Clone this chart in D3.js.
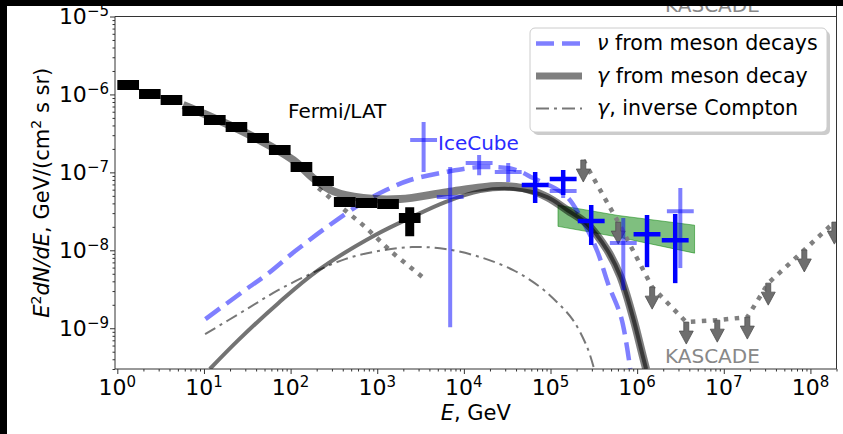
<!DOCTYPE html>
<html>
<head>
<meta charset="utf-8">
<script src="https://cdn.jsdelivr.net/npm/d3@7"></script>
<style>
  body { margin: 0; background: #000; }
  svg { display: block; font-family: "DejaVu Sans", sans-serif; }
</style>
</head>
<body>
<svg width="843" height="434"></svg>
<script>
// ---- data ----
// Fermi/LAT diffuse spectrum, quarter-decade bins (GeV)
var fermiEdges = [1, 1.78, 3.16, 5.62, 10, 17.8, 31.6, 56.2, 100, 178, 316, 562, 1000, 1778, 3162];
var fermiFlux  = [1.32e-6, 1.01e-6, 8.47e-7, 6.12e-7, 4.69e-7, 3.82e-7, 2.76e-7, 1.93e-7, 1.17e-7, 7.73e-8, 4.16e-8, 4.04e-8, 3.92e-8, 2.59e-8];
var fermiLo    = [null, null, null, null, null, null, null, null, null, null, null, null, null, 1.52e-8];
var fermiHi    = [null, null, null, null, null, null, null, null, null, null, null, null, null, 3.58e-8];

// IceCube points, faint and bold sets
var icLightE  = [3.43e3, 6.95e3, 1.50e4, 3.25e4, 1.40e5, 6.92e5, 3.15e6];
var icLightF  = [2.60e-7, 4.82e-8, 1.32e-7, 1.01e-7, 5.75e-8, 1.24e-8, 3.18e-8];
var icLightLo = [1.01e-7, 1.03e-9, 9.2e-8, 7.5e-8, 4.68e-8, 3.08e-9, 5.92e-9];
var icLightHi = [4.43e-7, 1.17e-7, 1.67e-7, 1.32e-7, 9.2e-8, 2.59e-8, 6.28e-8];
var icDarkE   = [6.65e4, 1.40e5, 2.95e5, 1.30e6, 2.75e6];
var icDarkF   = [6.87e-8, 8.2e-8, 2.37e-8, 1.61e-8, 1.35e-8];
var icDarkLo  = [4.04e-8, 5.12e-8, 1.17e-8, 6.08e-9, 3.79e-9];
var icDarkHi  = [1.01e-7, 1.07e-7, 3.8e-8, 2.83e-8, 2.92e-8];
var icBinHalfDex = 0.155;

// IceCube power-law band
var bandE  = [1.22e5, 6.0e5, 4.6e6];
var bandHi = [3.8e-8, 2.8e-8, 2.1e-8];
var bandLo = [2.03e-8, 1.48e-8, 9.2e-9];

// KASCADE upper limits
var kascE  = [2.39e5, 6.05e5, 1.49e6, 3.69e6, 8.41e6, 1.87e7, 3.26e7, 8.5e7, 1.89e8];
var kascUL = [1.44e-7, 2.30e-8, 3.37e-9, 1.20e-9, 1.27e-9, 1.39e-9, 3.79e-9, 1.01e-8, 2.30e-8];

// model curves
var nuE = [10.4, 27.5, 53.6, 113, 271, 668, 1265, 2399, 6412, 1.54e4, 3.71e4, 6.31e4, 1.48e5, 2.26e5, 3.46e5, 4.63e5, 6.56e5, 8.32e5];
var nuF = [1.31e-9, 2.90e-9, 4.94e-9, 9.77e-9, 2.04e-8, 4.04e-8, 5.93e-8, 7.98e-8, 1.02e-7, 1.17e-7, 1.10e-7, 8.45e-8, 5.1e-8, 2.59e-8, 9.8e-9, 3.7e-9, 1.36e-9, 3.0e-10];

var gamTotE = [5.75, 9.0, 34, 107, 182, 309, 687, 1841, 6412, 2.42e4, 4.83e4, 9.14e4, 1.56e5, 2.65e5, 4.51e5, 6.37e5, 9.0e5, 1.14e6, 1.27e6];
var gamTotF = [7.31e-7, 5.94e-7, 3.01e-7, 1.44e-7, 8.45e-8, 5.75e-8, 4.68e-8, 4.54e-8, 5.58e-8, 6.67e-8, 6.28e-8, 4.82e-8, 3.28e-8, 2.17e-8, 1.01e-8, 4.67e-9, 1.35e-9, 4.79e-10, 2.99e-10];

var gamE = [11.7, 24.9, 72.1, 209, 951, 2512, 6095, 1.54e4, 3.71e4, 9.14e4, 1.56e5, 2.65e5, 4.51e5, 6.37e5, 9.0e5, 1.14e6, 1.27e6];
var gamF = [3.0e-10, 7.03e-10, 2.10e-9, 5.57e-9, 1.57e-8, 2.67e-8, 4.16e-8, 5.75e-8, 6.1e-8, 4.82e-8, 3.28e-8, 2.17e-8, 1.01e-8, 4.67e-9, 1.35e-9, 4.79e-10, 2.99e-10];

var icE = [10.3, 29.9, 71.8, 177, 426, 1023, 2512, 6095, 1.54e4, 3.71e4, 7.59e4, 1.19e5, 1.82e5, 2.65e5, 3.19e5];
var icF = [8.39e-10, 1.71e-9, 3.08e-9, 5.09e-9, 7.71e-9, 9.77e-9, 1.10e-8, 1.04e-8, 8.18e-9, 5.57e-9, 3.37e-9, 2.16e-9, 1.27e-9, 5.71e-10, 2.99e-10];

// dotted extrapolation of the Fermi spectrum
var fxE = [209, 394, 711, 1500, 3680];
var fxF = [6.3e-8, 3.5e-8, 2.04e-8, 9.3e-9, 4.14e-9];

var xTicks = [1, 10, 100, 1e3, 1e4, 1e5, 1e6, 1e7, 1e8];
var xTickExp = ['0', '1', '2', '3', '4', '5', '6', '7', '8'];
var yTicks = [1e-9, 1e-8, 1e-7, 1e-6, 1e-5];
var yTickExp = ['\u22129', '\u22128', '\u22127', '\u22126', '\u22125'];

var legendSym  = ['\u03bd', '\u03b3', '\u03b3'];
var legendText = [' from meson decays', ' from meson decay', ', inverse Compton'];

// ---- drawing ----
var svg = d3.select('svg');
var pL = 115, pR = 836.5, pT = 16.5, pB = 369;

var x = d3.scaleLog().domain([0.94, 2e8]).range([pL, pR]);
var y = d3.scaleLog().domain([3e-10, 1e-5]).range([pB, pT]);

svg.append('rect').attr('x', 7).attr('y', 6).attr('width', 836).attr('height', 428).attr('fill', '#fff');

svg.append('clipPath').attr('id', 'plot')
  .append('rect').attr('x', pL).attr('y', pT).attr('width', pR - pL).attr('height', pB - pT);

var plot = svg.append('g').attr('clip-path', 'url(#plot)');

function zipped(a, b) { return a.map(function (d, i) { return [d, b[i]]; }); }

var line = d3.line()
  .x(function (d) { return x(d[0]); })
  .y(function (d) { return y(d[1]); })
  .curve(d3.curveCatmullRom.alpha(0.5));
var straight = d3.line()
  .x(function (d) { return x(d[0]); })
  .y(function (d) { return y(d[1]); });

// green band
var area = d3.area()
  .x(function (d) { return x(d[0]); })
  .y0(function (d) { return y(d[1]); })
  .y1(function (d) { return y(d[2]); });
plot.append('path')
  .attr('d', area(bandE.map(function (d, i) { return [d, bandLo[i], bandHi[i]]; })))
  .attr('fill', '#008000').attr('fill-opacity', 0.5)
  .attr('stroke', '#008000').attr('stroke-opacity', 0.5).attr('stroke-width', 1);

// Fermi extrapolation (dotted)
plot.append('path').attr('d', straight(zipped(fxE, fxF)))
  .attr('fill', 'none').attr('stroke', '#808080').attr('stroke-width', 4.5)
  .attr('stroke-dasharray', '4.5 6.5');

// inverse Compton
plot.append('path').attr('d', line(zipped(icE, icF)))
  .attr('fill', 'none').attr('stroke', '#555').attr('stroke-opacity', 0.8)
  .attr('stroke-width', 2).attr('stroke-dasharray', '12 5 3 5');

// neutrinos
plot.append('path').attr('d', line(zipped(nuE, nuF)))
  .attr('fill', 'none').attr('stroke', '#0000ff').attr('stroke-opacity', 0.5)
  .attr('stroke-width', 4.5).attr('stroke-dasharray', '18 8');

// gamma from meson decay (total and component)
plot.append('path').attr('d', line(zipped(gamTotE, gamTotF)))
  .attr('fill', 'none').attr('stroke', '#000').attr('stroke-opacity', 0.5).attr('stroke-width', 8);
plot.append('path').attr('d', line(zipped(gamE, gamF)))
  .attr('fill', 'none').attr('stroke', '#000').attr('stroke-opacity', 0.55).attr('stroke-width', 4);

// KASCADE limits
var kasc = zipped(kascE, kascUL);
plot.append('path').attr('d', straight(kasc))
  .attr('fill', 'none').attr('stroke', '#808080').attr('stroke-width', 4.5)
  .attr('stroke-dasharray', '4.5 6.5');
plot.selectAll('.arrow')
  .data(kasc)
  .enter()
  .append('path')
  .attr('class', 'arrow')
  .attr('transform', function (d) { return 'translate(' + x(d[0]) + ',' + y(d[1]) + ')'; })
  .attr('d', 'M-2.5,0L2.5,0L2.5,9L7,9L0,22L-7,9L-2.5,9Z')
  .attr('fill', '#6e6e6e').attr('stroke', '#505050').attr('stroke-width', 0.8);

// Fermi/LAT points
var fermi = fermiFlux.map(function (f, i) {
  return { e0: fermiEdges[i], e1: fermiEdges[i + 1], e: Math.sqrt(fermiEdges[i] * fermiEdges[i + 1]), f: f, lo: fermiLo[i], hi: fermiHi[i] };
});
plot.selectAll('.fx')
  .data(fermi)
  .enter()
  .append('line')
  .attr('x1', function (d) { return x(d.e0); })
  .attr('x2', function (d) { return x(d.e1); })
  .attr('y1', function (d) { return y(d.f); })
  .attr('y2', function (d) { return y(d.f); })
  .attr('stroke', '#000').attr('stroke-width', 10);
plot.selectAll('.fy')
  .data(fermi.filter(function (d) { return d.lo !== null; }))
  .enter()
  .append('line')
  .attr('x1', function (d) { return x(d.e); })
  .attr('x2', function (d) { return x(d.e); })
  .attr('y1', function (d) { return y(d.lo); })
  .attr('y2', function (d) { return y(d.hi); })
  .attr('stroke', '#000').attr('stroke-width', 9);

// IceCube crosses
function crosses(E, F, lo, hi, color, opacity, width) {
  var pts = E.map(function (e, i) { return { e: e, f: F[i], lo: lo[i], hi: hi[i] }; });
  var g = plot.append('g').attr('stroke', color).attr('stroke-opacity', opacity).attr('stroke-width', width);
  g.selectAll('.h').data(pts).enter().append('line').attr('class', 'h')
    .attr('x1', function (d) { return x(d.e / Math.pow(10, icBinHalfDex)); })
    .attr('x2', function (d) { return x(d.e * Math.pow(10, icBinHalfDex)); })
    .attr('y1', function (d) { return y(d.f); })
    .attr('y2', function (d) { return y(d.f); });
  g.selectAll('.v').data(pts).enter().append('line').attr('class', 'v')
    .attr('x1', function (d) { return x(d.e); })
    .attr('x2', function (d) { return x(d.e); })
    .attr('y1', function (d) { return y(d.lo); })
    .attr('y2', function (d) { return y(d.hi); });
}
crosses(icLightE, icLightF, icLightLo, icLightHi, '#0000ff', 0.5, 4);
crosses(icDarkE, icDarkF, icDarkLo, icDarkHi, '#0000ff', 1, 4.5);

// annotations
svg.append('text').attr('x', 288).attr('y', 118).attr('font-size', 20).attr('fill', '#000').text('Fermi/LAT');
svg.append('text').attr('x', 438).attr('y', 149.5).attr('font-size', 20).attr('fill', '#2b2bff').text('IceCube');
svg.append('text').attr('x', 665).attr('y', 363).attr('font-size', 20).attr('fill', '#888').text('KASCADE');
svg.append('text').attr('x', 665).attr('y', 12).attr('font-size', 20).attr('fill', '#888').text('KASCADE');

// legend
var lg = svg.append('g');
lg.append('rect').attr('x', 533).attr('y', 31).attr('width', 297).attr('height', 104).attr('rx', 5)
  .attr('fill', '#999').attr('fill-opacity', 0.5);
lg.append('rect').attr('x', 530).attr('y', 28).attr('width', 297).attr('height', 104).attr('rx', 5)
  .attr('fill', '#fff').attr('stroke', '#ccc').attr('stroke-width', 1);
var handles = [
  { color: '#0000ff', op: 0.5, w: 4.5, dash: '18 8' },
  { color: '#000', op: 0.5, w: 7, dash: null },
  { color: '#555', op: 0.8, w: 2, dash: '13 5 3 5' }
];
legendSym.forEach(function (s, i) {
  var cy = 43.5 + i * 32.5;
  lg.append('line').attr('x1', 536).attr('x2', 582).attr('y1', cy).attr('y2', cy)
    .attr('stroke', handles[i].color).attr('stroke-opacity', handles[i].op)
    .attr('stroke-width', handles[i].w).attr('stroke-dasharray', handles[i].dash);
  var t = lg.append('text').attr('x', 597).attr('y', cy + 6.5).attr('font-size', 20.6).attr('fill', '#000');
  t.append('tspan').attr('font-style', 'italic').text(s);
  t.append('tspan').text(legendText[i]);
});

// axes
var ax = svg.append('g').attr('transform', 'translate(0,' + pB + ')');
ax.call(d3.axisBottom(x).tickValues(x.ticks().filter(function (d) { return xTicks.indexOf(d) < 0; }))
  .tickSize(2.5).tickSizeOuter(0).tickFormat(''));
ax.select('.domain').remove();
var axM = svg.append('g').attr('transform', 'translate(0,' + pB + ')');
axM.call(d3.axisBottom(x).tickValues(xTicks).tickSize(5).tickSizeOuter(0).tickFormat(''));
axM.select('.domain').remove();

var ay = svg.append('g').attr('transform', 'translate(' + pL + ',0)');
ay.call(d3.axisLeft(y).tickValues(y.ticks().filter(function (d) {
  return Math.abs(Math.log10(d) - Math.round(Math.log10(d))) > 1e-6;
})).tickSize(2.5).tickSizeOuter(0).tickFormat(''));
ay.select('.domain').remove();
var ayM = svg.append('g').attr('transform', 'translate(' + pL + ',0)');
ayM.call(d3.axisLeft(y).tickValues(yTicks).tickSize(5).tickSizeOuter(0).tickFormat(''));
ayM.select('.domain').remove();
svg.selectAll('.tick line').attr('stroke', '#333');

xTicks.forEach(function (d, i) {
  var t = svg.append('text').attr('x', x(d)).attr('y', 395).attr('text-anchor', 'middle')
    .attr('font-size', 22).attr('fill', '#000');
  t.append('tspan').text('10');
  t.append('tspan').attr('font-size', 15).attr('dy', -8).text(xTickExp[i]);
});
yTicks.forEach(function (d, i) {
  var t = svg.append('text').attr('x', 109).attr('y', y(d) + 7.5).attr('text-anchor', 'end')
    .attr('font-size', 22).attr('fill', '#000');
  t.append('tspan').text('10');
  t.append('tspan').attr('font-size', 15).attr('dy', -8).text(yTickExp[i]);
});

// spines
var sp = svg.append('g').attr('stroke', '#333').attr('stroke-width', 1).attr('fill', 'none');
sp.append('path').attr('d', 'M' + pL + ',' + pT + 'V' + pB + 'H' + pR);
sp.append('path').attr('d', 'M' + pL + ',' + pT + 'H' + pR);
sp.append('path').attr('d', 'M' + pR + ',6V' + pB);

// axis labels
var xl = svg.append('text').attr('x', (pL + pR) / 2).attr('y', 420).attr('text-anchor', 'middle')
  .attr('font-size', 21).attr('fill', '#000');
xl.append('tspan').attr('font-style', 'italic').text('E');
xl.append('tspan').text(', GeV');

var yl = svg.append('text')
  .attr('transform', 'translate(49,' + ((pT + pB) / 2) + ') rotate(-90)')
  .attr('text-anchor', 'middle').attr('font-size', 21).attr('fill', '#000');
yl.append('tspan').attr('font-style', 'italic').text('E');
yl.append('tspan').attr('font-size', 14).attr('dy', -8).text('2');
yl.append('tspan').attr('font-style', 'italic').attr('dy', 8).text('dN/dE');
yl.append('tspan').text(', GeV/(cm');
yl.append('tspan').attr('font-size', 14).attr('dy', -8).text('2');
yl.append('tspan').attr('dy', 8).text(' s sr)');

// black border of the crop
svg.append('rect').attr('x', 0).attr('y', 0).attr('width', 843).attr('height', 6).attr('fill', '#000');
svg.append('rect').attr('x', 0).attr('y', 0).attr('width', 7).attr('height', 434).attr('fill', '#000');
</script>
</body>
</html>
